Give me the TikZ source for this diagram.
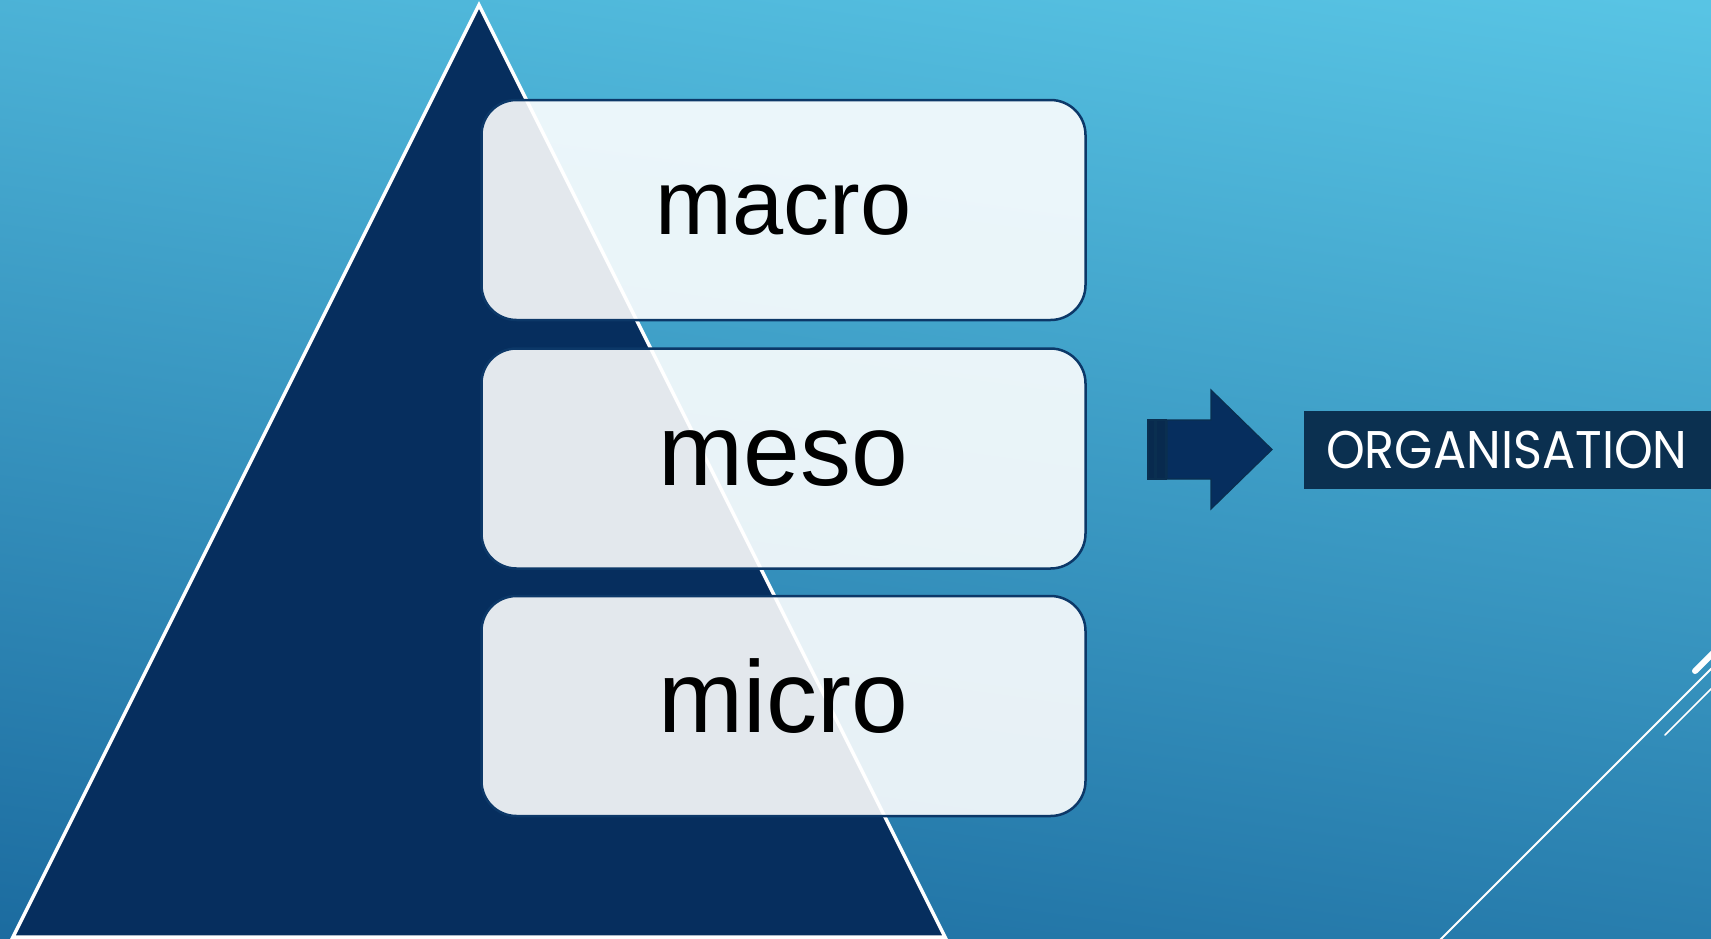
\documentclass[tikz,border=0pt]{standalone}
\usepackage{fontspec}
\setmainfont{Liberation Sans}
\newfontfamily\orgfont[FakeStretch=0.93]{Poppins}
\definecolor{bgtop}{RGB}{88,196,228}
\definecolor{bgbot}{RGB}{28,108,160}
\definecolor{navy}{RGB}{6,46,94}
\definecolor{stripe}{RGB}{8,42,78}
\definecolor{boxline}{RGB}{12,56,104}
\definecolor{arrowline}{RGB}{10,47,80}
\definecolor{orgfill}{RGB}{11,48,80}
\tikzset{
  tri/.style={fill=navy, draw=white, line width=3.5pt, line join=miter},
  levelbox/.style={rectangle, rounded corners=35pt, fill=white, fill opacity=0.89,
    text opacity=1, draw=boxline, draw opacity=1, line width=2.5pt,
    minimum width=604pt, minimum height=220pt, inner sep=0pt, text depth=0pt},
  bigtext/.style={font=\fontsize{102}{110}\selectfont, text height=53pt},
  smalltext/.style={font=\fontsize{92}{100}\selectfont, text height=48pt},
  arrowpart/.style={fill=navy, draw=arrowline, line width=1.2pt},
  stripepart/.style={fill=stripe, draw=arrowline, line width=1.2pt},
  orgbox/.style={rectangle, fill=orgfill, text=white, anchor=west,
    minimum height=78pt, inner xsep=22pt, text width=420pt, align=left,
    font=\orgfont\fontsize{53}{60}\selectfont},
  deco/.style={draw=white, line cap=round}
}
\begin{document}
\begin{tikzpicture}[x=1pt,y=-1pt]
\useasboundingbox (0,0) rectangle (1711,938);
\shade[top color=bgtop, bottom color=bgbot, shading angle=-8] (-60,-60) rectangle (1771,998);
% pyramid
\draw[tri] (479,5) -- (945,937) -- (13,937) -- cycle;
% level boxes
\node[levelbox, smalltext] (macro) at (783.5,210) {macro};
\node[levelbox, bigtext] (meso) at (783.5,458.5) {meso};
\node[levelbox, bigtext] (micro) at (783.5,706) {micro};
% striped arrow
\draw[stripepart] (1148,420) rectangle (1155,479);
\draw[stripepart] (1156,420) rectangle (1166,479);
\draw[arrowpart] (1167,420) -- (1211,420) -- (1211,390) -- (1272,449.5) -- (1211,509) -- (1211,479) -- (1167,479) -- cycle;
% label
\node[orgbox] (org) at (1304,450) {ORGANISATION};
% decorative lines
\coordinate (l1a) at (1435,945);
\coordinate (l1b) at (1725,655);
\draw[deco, line width=2pt] (l1a) -- (l1b);
\coordinate (l2a) at (1665,735);
\coordinate (l2b) at (1725,675);
\draw[deco, line width=1.6pt] (l2a) -- (l2b);
\coordinate (l3a) at (1695,671);
\coordinate (l3b) at (1725,641);
\draw[deco, line width=6pt] (l3a) -- (l3b);
\end{tikzpicture}
\end{document}
